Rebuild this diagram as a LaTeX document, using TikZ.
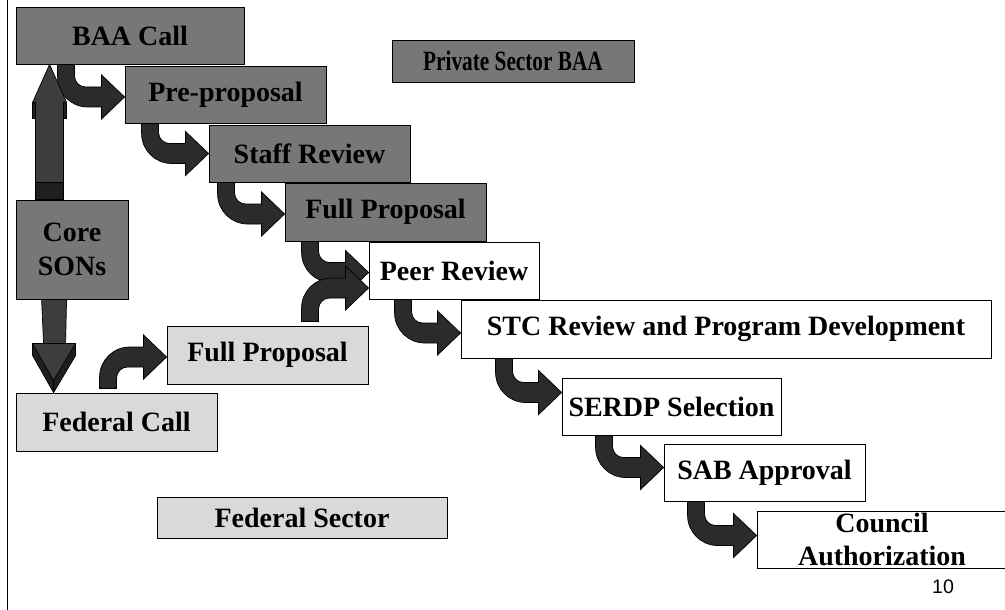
\documentclass[tikz,border=0pt]{standalone}
\usepackage{fontspec}
\setmainfont{Liberation Serif}
\setsansfont{Liberation Sans}
\usepackage{graphicx}
\usetikzlibrary{calc,positioning}
\definecolor{boxdark}{HTML}{777777}
\definecolor{boxlight}{HTML}{D9D9D9}
\definecolor{arrowdark}{HTML}{2B2B2B}
\definecolor{shaftgray}{HTML}{3D3D3D}
\definecolor{shaftdark}{HTML}{1F1F1F}
\newcommand{\pxunit}{0.025cm}
\newcommand{\boxfont}{\fontsize{19.9}{24}\selectfont\bfseries}
% bent arrow from the foot of one box into the side of the next (#3 = 1 down, -1 up)
\newcommand{\bendarrow}[3]{%
  \path[bentarrow] let \p1=(#1), \p2=(#2) in
    (\x1,\y1) -- ($(\x1,\y2)+(0,{-20*(#3)})$)
    .. controls ($(\x1,\y2)+(0,{-3.5*(#3)})$) and ($(\x1,\y2)+(13.5,{10*(#3)})$) .. ($(\x1,\y2)+(30,{10*(#3)})$)
    -- ($(\x2,\y2)+(-23,{10*(#3)})$) -- ($(\x2,\y2)+(-23,{22*(#3)})$) -- (\x2,\y2)
    -- ($(\x2,\y2)+(-23,{-22*(#3)})$) -- ($(\x2,\y2)+(-23,{-10*(#3)})$)
    -- ($(\x1,\y2)+(28,{-10*(#3)})$) .. controls ($(\x1,\y2)+(22,{-10*(#3)})$) and ($(\x1,\y2)+(17,{-15*(#3)})$) .. ($(\x1,\y2)+(17,{-21*(#3)})$)
    -- ($(\x1,\y1)+(17,0)$) -- cycle;}

\begin{document}
\begin{tikzpicture}[x=0.025cm, y=-0.025cm,
  darkbox/.style={draw=black, line width=0.6pt, fill=boxdark, inner sep=0pt, font=\boxfont},
  lightbox/.style={darkbox, fill=boxlight},
  whitebox/.style={darkbox, fill=white},
  boxsize/.style 2 args={minimum width=#1*\pxunit, minimum height=#2*\pxunit},
  bentarrow/.style={draw=black, line width=0.5pt, fill=arrowdark},
  upfill/.style={draw=black, line width=0.5pt, fill=shaftgray},
  updark/.style={draw=black, line width=0.5pt, fill=shaftdark}]
\useasboundingbox (0,0) rectangle (1005,610);
% frame line on the left
\draw[line width=0.6pt] (7,0) -- (7,610);

% Private sector chain
\node[darkbox, boxsize={228}{57}] (baa) at (130,35.5) {BAA Call};
\node[darkbox, boxsize={201}{57}] (pre) at (225.5,94.5) {Pre-proposal};
\node[darkbox, boxsize={201}{57}] (staff) at (309.5,153.5) {Staff Review};
\node[darkbox, boxsize={201}{58}] (full) at (385.5,212) {Full Proposal};
\node[darkbox, boxsize={242}{42}] (private) at (513,61) {\scalebox{0.76}[1]{Private Sector BAA}};

% Common steps
\node[whitebox, boxsize={170}{57}] (peer) at (454,270.5) {Peer Review};
\node[whitebox, boxsize={530}{58}] (stc) at (726,329) {STC Review and Program Development};
\node[whitebox, boxsize={219}{57}] (serdp) at (671.5,406.5) {SERDP Selection};
\node[whitebox, boxsize={201}{57}] (sab) at (764.5,472.5) {SAB Approval};
\node[whitebox, boxsize={250}{57}, align=center] (council) at (882,539.5) {Council\\Authorization};

% Core SONs and federal chain
\node[darkbox, boxsize={112}{99}, align=center] (core) at (72,249.5) {Core\\SONs};
\node[lightbox, boxsize={201}{58}] (fedcall) at (116.5,422) {Federal Call};
\node[lightbox, boxsize={201}{58}] (fedfull) at (267.5,355) {Full Proposal};
\node[lightbox, boxsize={290}{41}] (fedsector) at (302,517.5) {Federal Sector};

% page number
\node[font=\fontsize{13.9}{16}\selectfont\sffamily] (pagenum) at (943,587) {10};

% Bent arrows down the staircase
\bendarrow{$(baa.south west)+(42,0)$}{$(pre.west)+(0,2.5)$}{1}
\bendarrow{$(pre.south west)+(17,0)$}{$(staff.west)+(0,0)$}{1}
\bendarrow{$(staff.south west)+(9,0)$}{$(full.west)+(0,2)$}{1}
\bendarrow{$(full.south west)+(17,0)$}{$(peer.west)+(0,2)$}{1}
\bendarrow{$(peer.south west)+(26,0)$}{$(stc.west)+(0,4)$}{1}
\bendarrow{$(stc.south west)+(35,0)$}{$(serdp.west)+(0,-14)$}{1}
\bendarrow{$(serdp.south west)+(34,0)$}{$(sab.west)+(0,-5)$}{1}
\bendarrow{$(sab.south west)+(24,0)$}{$(council.west)+(0,-4)$}{1}
% Bent arrows up from the federal boxes
\bendarrow{$(fedcall.north west)+(84,-4)$}{$(fedfull.west)+(0,2)$}{-1}
\bendarrow{$(fedfull.north west)+(135,-4)$}{$(peer.west)+(0,17.5)$}{-1}

% Arrow up from Core SONs to BAA Call
\coordinate (upbase) at ($(core.north west)+(20,0)$);
\coordinate (uptip) at ($(baa.south west)+(34,0)$);
\path[upfill] let \p1=(upbase), \p2=(uptip) in
  (\x1,\y1) -- ($(\x1,\y2)+(0,38)$) -- ($(\x1,\y2)+(-3,38)$) -- (\x2,\y2)
  -- ($(\x1,\y2)+(31,38)$) -- ($(\x1,\y2)+(28,38)$) -- ($(\x1,\y1)+(28,0)$) -- cycle;
\path[updark] let \p1=(upbase), \p2=(uptip) in
  ($(\x1,\y2)+(-3,38)$) rectangle ($(\x1,\y2)+(0,54)$)
  ($(\x1,\y2)+(28,38)$) rectangle ($(\x1,\y2)+(31,54)$)
  (\x1,\y1) rectangle ($(\x1,\y1)+(28,-17)$);

% Arrow down from Core SONs to Federal Call
\coordinate (downbase) at ($(core.south west)+(26,0)$);
\coordinate (downtip) at ($(fedcall.north west)+(38,0)$);
\path[upfill] let \p1=(downbase), \p2=(downtip) in
  (\x1,\y1) -- ($(\x1,\y2)+(2,-49)$) -- ($(\x1,\y2)+(24,-49)$) -- ($(\x1,\y1)+(25,0)$) -- cycle;
\path[updark] let \p2=(downtip) in
  ($(\x2,\y2)+(-21,-49)$) -- ($(\x2,\y2)+(22,-49)$) -- ($(\x2,\y2)+(22,-37)$) -- (\x2,\y2)
  -- ($(\x2,\y2)+(-21,-37)$) -- cycle;
\path[upfill] let \p2=(downtip) in
  ($(\x2,\y2)+(-21,-49)$) -- ($(\x2,\y2)+(22,-49)$) -- ($(\x2,\y2)+(0,-12)$) -- cycle;
\draw[line width=0.5pt] let \p2=(downtip) in ($(\x2,\y2)+(0,-12)$) -- (\x2,\y2);
\end{tikzpicture}
\end{document}
